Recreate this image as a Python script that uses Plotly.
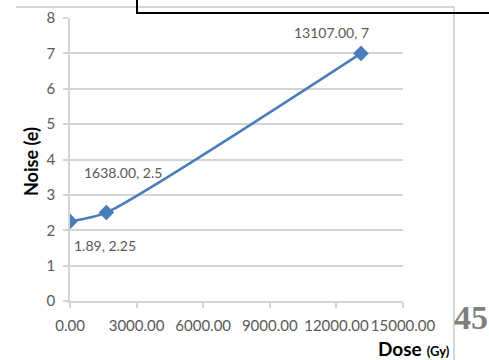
import plotly.graph_objects as go

# Noise versus absorbed dose
dose_gy = [1.89, 1638.00, 13107.00]
noise_e = [2.25, 2.5, 7]
x_ticks = [0, 3000, 6000, 9000, 12000, 15000]
y_ticks = [0, 1, 2, 3, 4, 5, 6, 7, 8]

line_blue = "#4a7ebb"
grid_grey = "#d4d4d4"
text_grey = "#595959"
font_family = "Lato"
serif_family = "Liberation Serif, Times New Roman, DejaVu Serif, serif"

W, H = 489, 360
L, R, T, B = 70, 86, 18, 59


def px_x(px):
    return (px - L) / (W - L - R)


def px_y(py):
    return (H - B - py) / (H - T - B)


fig = go.Figure()
fig.add_trace(go.Scatter(
    x=dose_gy, y=noise_e,
    mode="lines+markers",
    line=dict(color=line_blue, width=2.5, shape="spline", smoothing=0.6),
    marker=dict(symbol="diamond", size=12, color=line_blue),
    showlegend=False,
    hoverinfo="skip",
))

# data labels built from the same values
label_offsets = [(35, -24), (17, 40), (-29, 21)]
for (xv, yv), (dx, dy) in zip(zip(dose_gy, noise_e), label_offsets):
    fig.add_annotation(
        x=xv, y=yv, xref="x", yref="y",
        text=f"{xv:.2f}, {yv:g}",
        showarrow=False, xshift=dx, yshift=dy,
        xanchor="center", yanchor="middle",
        font=dict(family=font_family, size=14, color=text_grey),
    )

fig.update_xaxes(
    range=[0, 15000], tickvals=x_ticks,
    ticktext=[f"{v:.2f}" for v in x_ticks],
    tickangle=0, automargin=False,
    showgrid=False, zeroline=False,
    showline=True, linecolor=grid_grey, linewidth=1.5,
    ticks="outside", ticklen=5, tickcolor=grid_grey, tickwidth=1.5,
    tickfont=dict(family=font_family, size=15, color=text_grey),
    ticklabelstandoff=5,
)
fig.update_yaxes(
    range=[0, 8], tickvals=y_ticks,
    automargin=False,
    showgrid=True, gridcolor=grid_grey, gridwidth=1.5,
    zeroline=False,
    showline=True, linecolor=grid_grey, linewidth=1.5,
    ticks="outside", ticklen=5, tickcolor=grid_grey, tickwidth=1.5,
    tickfont=dict(family=font_family, size=15, color=text_grey),
    ticklabelstandoff=5,
)

# axis titles
fig.add_annotation(
    x=px_x(31), y=px_y(162), xref="paper", yref="paper",
    xanchor="center", yanchor="middle",
    text="<b>Noise (e)</b>", textangle=-90, showarrow=False,
    font=dict(family=font_family, size=18, color="#000000"),
)
fig.add_annotation(
    x=px_x(452), y=px_y(348), xref="paper", yref="paper",
    xanchor="right", yanchor="middle",
    text="<b>Dose</b> <span style='font-size:13px'><b>(Gy)</b></span>",
    showarrow=False,
    font=dict(family=font_family, size=19, color="#000000"),
)
# page number
fig.add_annotation(
    x=px_x(471), y=px_y(317), xref="paper", yref="paper",
    xanchor="center", yanchor="middle",
    text="<b>45</b>", showarrow=False,
    font=dict(family=serif_family, size=34, color="#7f7f7f"),
)

# chart frame and page box
fig.add_shape(type="line", xref="paper", yref="paper",
              x0=px_x(16), x1=px_x(454), y0=px_y(7), y1=px_y(7),
              line=dict(color="#c8c8c8", width=1.5))
fig.add_shape(type="line", xref="paper", yref="paper",
              x0=px_x(454), x1=px_x(454), y0=px_y(7), y1=px_y(360),
              line=dict(color="#c8c8c8", width=1.5))
fig.add_shape(type="line", xref="paper", yref="paper",
              x0=px_x(137), x1=px_x(137), y0=px_y(0), y1=px_y(13),
              line=dict(color="#000000", width=2))
fig.add_shape(type="line", xref="paper", yref="paper",
              x0=px_x(136), x1=px_x(489), y0=px_y(13), y1=px_y(13),
              line=dict(color="#000000", width=2))

fig.update_layout(
    width=W, height=H,
    margin=dict(l=L, r=R, t=T, b=B, autoexpand=False),
    paper_bgcolor="white", plot_bgcolor="white",
)

fig.write_html("out.html")
